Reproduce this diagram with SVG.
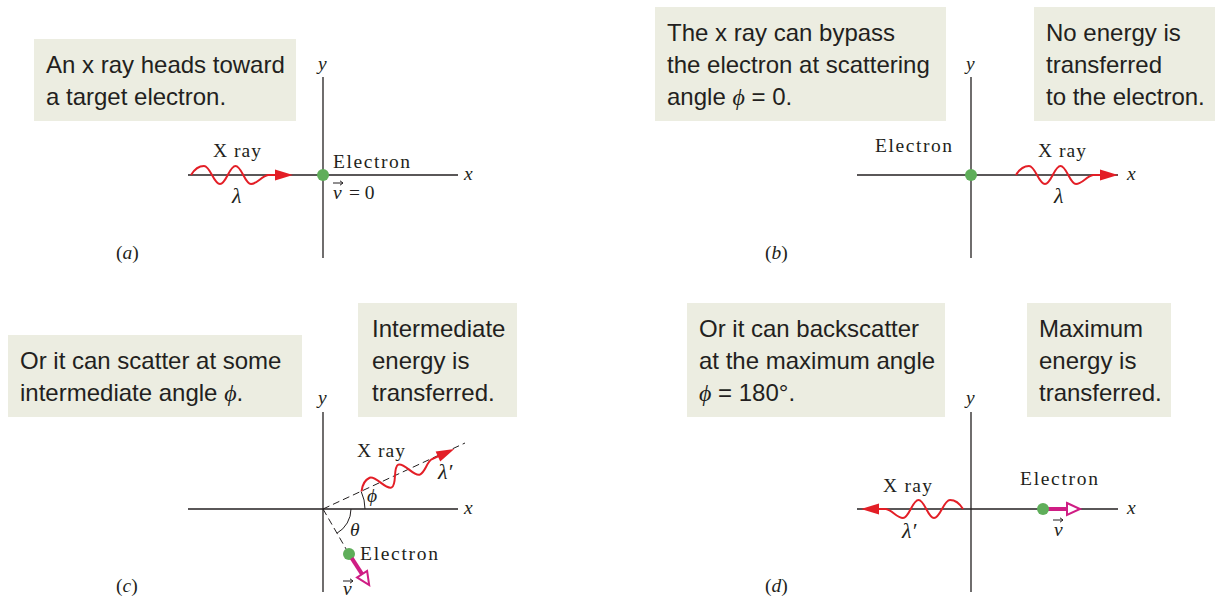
<svg xmlns="http://www.w3.org/2000/svg" xmlns:xlink="http://www.w3.org/1999/xlink" width="1215" height="597" viewBox="0 0 1215 597">
<style>
.box{fill:#ecede1}
.bt{font-family:"Liberation Sans",Arial,sans-serif;font-size:24px;fill:#231f20}
.lb{font-family:"Liberation Serif","Times New Roman",serif;font-size:19.5px;fill:#231f20}
.lam{font-size:22px}
.it{font-style:italic}
.ax{stroke:#231f20;stroke-width:1.3;fill:none}
.dash{stroke:#231f20;stroke-width:1;stroke-dasharray:7 4;fill:none}
.arc{stroke:#231f20;stroke-width:1;fill:none}
.dot{fill:#5fae5a}
.vec{stroke:#231f20;stroke-width:1;fill:none}
</style>
<defs>
<g id="xray">
<path d="M0,0 C3,-5 7,-9 13,-9 C19.4,-9 22.6,9 29,9 C35.2,9 38.3,-9 44.5,-9 C50.7,-9 53.8,9 60,9 C66,9 71,1 77,0 L86,0" fill="none" stroke="#e31e26" stroke-width="2"/>
<polygon points="84,-5.5 102,0 84,5.5" fill="#e31e26"/>
</g>
<g id="earrow" stroke="#cf1d84">
<line x1="5" y1="0" x2="24" y2="0" stroke-width="4"/>
<polygon points="24,-6 37,0 24,6" fill="#fff" stroke-width="2"/>
</g>
<path id="vhat" d="M0,0 H10 M7,-2.2 L10,0 L7,2.2"/>
</defs>

<!-- Panel (a) -->
<g id="panel-a">
<g id="a-box"><rect class="box" x="34" y="39" width="262" height="82"/>
<text class="bt" x="46" y="73">An x ray heads toward</text>
<text class="bt" x="46" y="105">a target electron.</text></g>
<g id="a-axes"><line class="ax" x1="323" y1="77" x2="323" y2="258"/><line class="ax" x1="188" y1="175" x2="458" y2="175"/>
<text class="lb it" x="318" y="70">y</text><text class="lb it" x="464" y="180">x</text></g>
<g id="a-xray"><use xlink:href="#xray" transform="translate(191,175)"/>
<text class="lb" x="213" y="157" textLength="48">X ray</text><text class="lb it lam" x="232" y="203">λ</text></g>
<g id="a-electron"><circle class="dot" cx="323" cy="175" r="6"/>
<text class="lb" x="333" y="168" textLength="77">Electron</text>
<text class="lb it" x="333" y="199">v</text><use class="vec" xlink:href="#vhat" transform="translate(333,183)"/>
<text class="lb" x="349" y="199">= 0</text></g>
<text class="lb" x="116" y="259">(<tspan class="it">a</tspan>)</text>
</g>

<!-- Panel (b) -->
<g id="panel-b">
<g id="b-box1"><rect class="box" x="655" y="7" width="291" height="114"/>
<text class="bt" x="667" y="41">The x ray can bypass</text>
<text class="bt" x="667" y="73">the electron at scattering</text>
<text class="bt" x="667" y="105">angle <tspan font-family="Liberation Serif, serif" font-style="italic">ϕ</tspan> = 0.</text></g>
<g id="b-box2"><rect class="box" x="1034" y="7" width="181" height="114"/>
<text class="bt" x="1046" y="41">No energy is</text>
<text class="bt" x="1046" y="73">transferred</text>
<text class="bt" x="1046" y="105">to the electron.</text></g>
<g id="b-axes"><line class="ax" x1="971" y1="77" x2="971" y2="258"/><line class="ax" x1="857" y1="175" x2="1118" y2="175"/>
<text class="lb it" x="966" y="70">y</text><text class="lb it" x="1127" y="180">x</text></g>
<g id="b-electron"><circle class="dot" cx="971" cy="175" r="6"/>
<text class="lb" x="875" y="152" textLength="77">Electron</text></g>
<g id="b-xray"><use xlink:href="#xray" transform="translate(1016,175)"/>
<text class="lb" x="1038" y="157" textLength="48">X ray</text><text class="lb it lam" x="1054" y="203">λ</text></g>
<text class="lb" x="765" y="259">(<tspan class="it">b</tspan>)</text>
</g>

<!-- Panel (c) -->
<g id="panel-c">
<g id="c-box1"><rect class="box" x="8" y="335" width="294" height="82"/>
<text class="bt" x="20" y="369">Or it can scatter at some</text>
<text class="bt" x="20" y="401">intermediate angle <tspan font-family="Liberation Serif, serif" font-style="italic">ϕ</tspan>.</text></g>
<g id="c-box2"><rect class="box" x="358" y="303" width="159" height="114"/>
<text class="bt" x="372" y="337">Intermediate</text>
<text class="bt" x="372" y="369">energy is</text>
<text class="bt" x="372" y="401">transferred.</text></g>
<g id="c-axes"><line class="ax" x1="323" y1="412" x2="323" y2="592"/><line class="ax" x1="188" y1="509" x2="458" y2="509"/>
<text class="lb it" x="318" y="404">y</text><text class="lb it" x="464" y="514">x</text></g>
<g id="c-angles">
<line class="dash" x1="323" y1="509" x2="465" y2="443"/>
<line class="dash" x1="323" y1="509" x2="349" y2="554"/>
<path class="arc" d="M365,509 A42,42 0 0 0 361.2,491.5"/>
<path class="arc" d="M351,509 A28,28 0 0 1 337,533.2"/>
<text class="lb it" x="367" y="502">ϕ</text>
<text class="lb it" x="350" y="536">θ</text></g>
<g id="c-xray"><use xlink:href="#xray" transform="translate(323,509) rotate(-24.6) translate(42.4,0)"/>
<text class="lb" x="357" y="457" textLength="48">X ray</text><text class="lb it lam" x="438" y="479">λ′</text></g>
<g id="c-electron"><circle class="dot" cx="349" cy="554" r="6"/>
<use xlink:href="#earrow" transform="translate(349,554) rotate(57)"/>
<text class="lb" x="360" y="560" textLength="78">Electron</text>
<use class="vec" xlink:href="#vhat" transform="translate(343,581)"/>
<text class="lb it" x="343" y="595">v</text></g>
<text class="lb" x="116" y="592">(<tspan class="it">c</tspan>)</text>
</g>

<!-- Panel (d) -->
<g id="panel-d">
<g id="d-box1"><rect class="box" x="687" y="303" width="258" height="114"/>
<text class="bt" x="699" y="337">Or it can backscatter</text>
<text class="bt" x="699" y="369">at the maximum angle</text>
<text class="bt" x="699" y="401"><tspan font-family="Liberation Serif, serif" font-style="italic">ϕ</tspan> = 180°.</text></g>
<g id="d-box2"><rect class="box" x="1027" y="303" width="144" height="114"/>
<text class="bt" x="1039" y="337">Maximum</text>
<text class="bt" x="1039" y="369">energy is</text>
<text class="bt" x="1039" y="401">transferred.</text></g>
<g id="d-axes"><line class="ax" x1="971" y1="412" x2="971" y2="592"/><line class="ax" x1="857" y1="509" x2="1118" y2="509"/>
<text class="lb it" x="966" y="404">y</text><text class="lb it" x="1127" y="514">x</text></g>
<g id="d-xray"><use xlink:href="#xray" transform="translate(963,509) scale(-1,1)"/>
<text class="lb" x="883" y="492" textLength="49">X ray</text><text class="lb it lam" x="902" y="538">λ′</text></g>
<g id="d-electron"><use xlink:href="#earrow" transform="translate(1043,509)"/>
<circle class="dot" cx="1043" cy="509" r="6"/>
<text class="lb" x="1020" y="485" textLength="78">Electron</text>
<use class="vec" xlink:href="#vhat" transform="translate(1053,520)"/>
<text class="lb it" x="1054" y="536">v</text></g>
<text class="lb" x="765" y="592">(<tspan class="it">d</tspan>)</text>
</g>
</svg>
